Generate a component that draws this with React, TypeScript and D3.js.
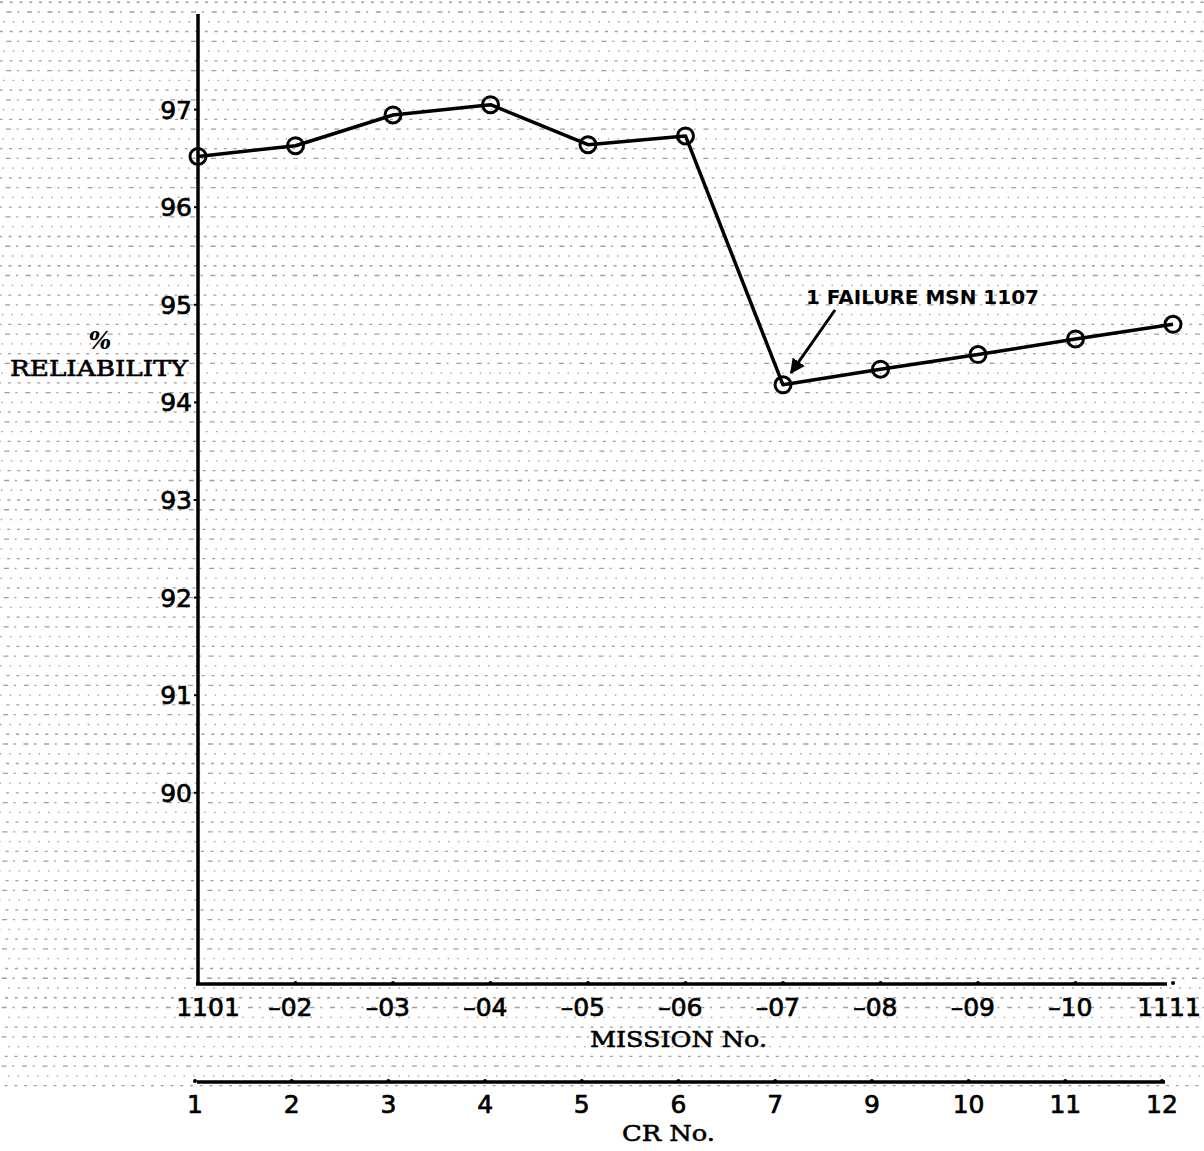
import React from "react";
import * as d3 from "d3";

const missions = ["1101", "–02", "–03", "–04", "–05", "–06", "–07", "–08", "–09", "–10", "1111"];
const reliability = [96.52, 96.63, 96.945, 97.05, 96.64, 96.73, 94.18, 94.34, 94.49, 94.65, 94.8];
const crNumbers = ["1", "2", "3", "4", "5", "6", "7", "9", "10", "11", "12"];
const yTicks = [90, 91, 92, 93, 94, 95, 96, 97];
const annotationText = "1 FAILURE MSN 1107";

const W = 1204;
const H = 1151;
const AXIS_X = 198;
const AXIS_TOP = 14;
const AXIS_BOTTOM = 984;
const CR_Y = 1082;

const typeFont = "'DejaVu Serif', serif";
const numFont = "'DejaVu Sans', sans-serif";

export default function App() {
  const x = d3.scalePoint<string>().domain(missions).range([198, 1173]);
  const xCr = d3.scalePoint<string>().domain(crNumbers).range([195, 1162]);
  const y = d3.scaleLinear().domain([88, 98]).range([988, 12]);

  const line = d3
    .line<number>()
    .x((_, i) => x(missions[i]) as number)
    .y((d) => y(d));

  // faint graph-paper grid (0.1 unit steps)
  const gridRows = d3.range(0, 120).map((k) => y(98.9 - k * 0.1)).filter((v) => v > 0 && v < H);

  const isDash = (m: string) => m.startsWith("–");
  const labelX = (m: string) => {
    const px = x(m) as number;
    if (isDash(m)) return px + 17;
    if (m === "1101") return px + 10;
    return px - 4;
  };

  return (
    <svg
      width={W}
      height={H}
      style={{ position: "absolute", left: 0, top: 0, background: "#fff" }}
      xmlns="http://www.w3.org/2000/svg"
    >
      <defs>
        <marker id="arrow" viewBox="0 0 10 10" refX="9" refY="5" markerWidth="5" markerHeight="5" orient="auto-start-reverse">
          <path d="M0,0 L10,5 L0,10 Z" fill="#000" />
        </marker>
      </defs>
      <rect x={0} y={0} width={W} height={H} fill="#fff" />
      <g opacity={0.4}>
        {gridRows.map((gy, i) => (
          <line
            key={i}
            x1={0}
            x2={W}
            y1={gy}
            y2={gy}
            stroke="#111"
            strokeWidth={1.3}
            strokeDasharray={i % 3 === 0 ? "3 6.76" : i % 3 === 1 ? "2 7.76 5 5.76" : "1.5 8.26"}
            strokeDashoffset={(i * 3.3) % 9.76}
          />
        ))}
      </g>

      {/* Y axis */}
      <line x1={AXIS_X} x2={AXIS_X} y1={AXIS_TOP} y2={AXIS_BOTTOM} stroke="#000" strokeWidth={3.5} />
      {yTicks.map((t) => (
        <g key={t}>
          <line x1={AXIS_X - 4} x2={AXIS_X} y1={y(t)} y2={y(t)} stroke="#000" strokeWidth={2} />
          <text
            x={AXIS_X - 6}
            y={y(t) + 2}
            textAnchor="end"
            dominantBaseline="middle"
            fontFamily={numFont}
            fontSize={25}
            fill="#000"
            stroke="#000"
            strokeWidth={0.7}
          >
            {t}
          </text>
        </g>
      ))}
      <text x={100} y={342} textAnchor="middle" dominantBaseline="middle" fontFamily={typeFont} fontStyle="italic" fontWeight="bold" fontSize={24} fill="#000">
        %
      </text>
      <text
        x={10}
        y={370}
        dominantBaseline="middle"
        fontFamily={typeFont}
        fontSize={23}
        textLength={178}
        lengthAdjust="spacingAndGlyphs"
        fill="#000"
        stroke="#000"
        strokeWidth={0.6}
      >
        RELIABILITY
      </text>

      {/* Mission axis */}
      <line x1={196} x2={(x("1111") as number) - 6} y1={AXIS_BOTTOM} y2={AXIS_BOTTOM} stroke="#000" strokeWidth={3.5} />
      {missions.map((m) => (
        <g key={m}>
          <circle cx={x(m) as number} cy={AXIS_BOTTOM - 1} r={2} fill="#000" />
          <text
            x={labelX(m)}
            y={1009}
            textAnchor={isDash(m) ? "end" : "middle"}
            dominantBaseline="middle"
            fontFamily={numFont}
            fontSize={25}
            fill="#000"
            stroke="#000"
            strokeWidth={0.7}
          >
            {m}
          </text>
        </g>
      ))}
      <text
        x={590}
        y={1041}
        dominantBaseline="middle"
        fontFamily={typeFont}
        fontSize={23}
        textLength={177}
        lengthAdjust="spacingAndGlyphs"
        fill="#000"
        stroke="#000"
        strokeWidth={0.6}
      >
        MISSION No.
      </text>

      {/* CR axis */}
      <line x1={197} x2={1165} y1={CR_Y} y2={CR_Y} stroke="#000" strokeWidth={3.5} />
      {crNumbers.map((c) => (
        <g key={c}>
          <circle cx={xCr(c) as number} cy={CR_Y - 1} r={2} fill="#000" />
          <text
            x={xCr(c) as number}
            y={1106}
            textAnchor="middle"
            dominantBaseline="middle"
            fontFamily={numFont}
            fontSize={25}
            fill="#000"
            stroke="#000"
            strokeWidth={0.7}
          >
            {c}
          </text>
        </g>
      ))}
      <text
        x={622}
        y={1135}
        dominantBaseline="middle"
        fontFamily={typeFont}
        fontSize={23}
        textLength={93}
        lengthAdjust="spacingAndGlyphs"
        fill="#000"
        stroke="#000"
        strokeWidth={0.6}
      >
        CR No.
      </text>

      {/* Data line */}
      <path d={line(reliability) ?? ""} fill="none" stroke="#000" strokeWidth={3.5} strokeLinejoin="round" />
      {reliability.map((v, i) => (
        <circle key={i} cx={x(missions[i]) as number} cy={y(v)} r={8} fill="none" stroke="#000" strokeWidth={3} />
      ))}

      {/* Annotation */}
      <line
        x1={835}
        y1={310}
        x2={(x("–07") as number) + 8}
        y2={y(reliability[6]) - 12}
        stroke="#000"
        strokeWidth={3}
        markerEnd="url(#arrow)"
      />
      <text
        x={806}
        y={298}
        dominantBaseline="middle"
        fontFamily={numFont}
        fontWeight="bold"
        fontSize={20}
        textLength={233}
        lengthAdjust="spacingAndGlyphs"
        fill="#000"
      >
        {annotationText}
      </text>
    </svg>
  );
}
